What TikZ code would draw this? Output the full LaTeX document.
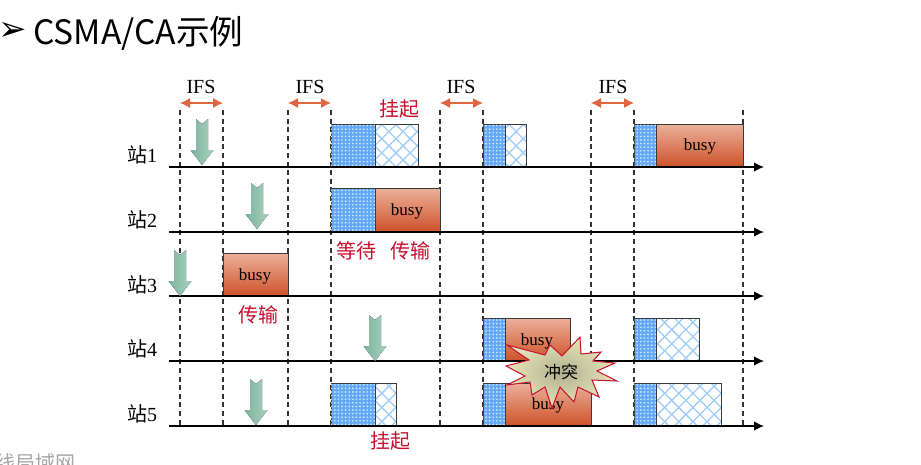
\documentclass[tikz,border=0pt]{standalone}
\usepackage{fontspec}
\setmainfont{Liberation Serif}
\newfontfamily\cjk{Noto Sans CJK SC}
\newfontfamily\symb{DejaVu Sans}
\usetikzlibrary{arrows.meta,patterns.meta,shadings}
\definecolor{ifsred}{HTML}{E0663F}
\definecolor{lblred}{HTML}{C8102E}
\definecolor{blueback}{HTML}{62A8F6}
\definecolor{bluedot}{HTML}{D2E7FC}
\definecolor{hatchblue}{HTML}{A0CCFA}
\definecolor{busytop}{HTML}{ECB09B}
\definecolor{busybot}{HTML}{CD5229}
\definecolor{dropl}{HTML}{7DB39F}
\definecolor{dropr}{HTML}{A9D0C1}
\definecolor{edgegray}{HTML}{3A3A3A}
\definecolor{burstin}{HTML}{B0B090}
\definecolor{burstout}{HTML}{E6E6B8}
\tikzset{
  boxedge/.style={draw=edgegray,line width=1pt},
  waitbox/.style={boxedge,fill=blueback,postaction={pattern={Dots[distance=3.6pt,radius=.95pt]},pattern color=bluedot}},
  pausebox/.style={boxedge,
    preaction={fill=white},
    preaction={pattern={Lines[angle=45,distance=10pt,line width=1.3pt]},pattern color=hatchblue},
    preaction={pattern={Lines[angle=-45,distance=10pt,line width=1.3pt]},pattern color=hatchblue}},
  busybox/.style={boxedge,top color=busytop,bottom color=busybot},
  busytext/.style={font=\fontsize{17}{17}\selectfont,text=black,inner sep=0pt},
  axisline/.style={line width=1.3pt,-{Latex[length=10pt,width=9.5pt]}},
  dashline/.style={line width=1.1pt,draw=black!80,dash pattern=on 5pt off 3.6pt},
  ifsarrow/.style={draw=ifsred,line width=1.2pt,{Latex[length=10pt,width=10pt]}-{Latex[length=10pt,width=10pt]}},
  ifslabel/.style={font=\fontsize{20}{20}\selectfont,inner sep=0pt},
  stationlabel/.style={font=\fontsize{20}{20}\selectfont,inner sep=0pt},
  redlabel/.style={font=\cjk\fontsize{20}{20}\selectfont,text=lblred,inner sep=0pt},
  dropshape/.style={left color=dropl,right color=dropr},
  burst/.style={draw=lblred,line width=1pt,inner color=burstin,outer color=burstout}
}
\newcommand{\dropmark}[2]{%
  \fill[dropshape,shift={(#1,#2)}] (-6,0) -- (0,5) -- (6,0) -- (6,31) -- (11.5,31) -- (0,46) -- (-11.5,31) -- (-6,31) -- cycle;}
\begin{document}
\begin{tikzpicture}[x=1pt,y=-1pt]
\useasboundingbox (0,0) rectangle (921,464);
\fill[white] (0,0) rectangle (921,464);
% title
\node[inner sep=0pt,font=\symb\fontsize{34}{34}\selectfont] (bullet) at (13,31) {➢};
\node[inner sep=0pt,anchor=west,font=\cjk\fontsize{33.6}{33.6}\selectfont] (title) at (33,33) {CSMA/CA示例};
% watermark
\node[inner sep=0pt,font=\cjk\fontsize{20}{20}\selectfont,text=black!35] (mark) at (35,463) {线局域网};
% dashed guides
\foreach \n/\x in {a/180,b/223,c/288,d/331,e/440,f/483,g/591,h/634,i/743}{
  \coordinate (\n top) at (\x,110);
  \coordinate (\n bot) at (\x,426);
  \draw[dashline] (\n top) -- (\n bot);
}
% IFS
\foreach \l/\r/\cx in {a/b/201,c/d/310,e/f/461,g/h/613}{
  \coordinate (\l ifs) at (\l top |- 0,103);
  \coordinate (\r ifs) at (\r top |- 0,103);
  \draw[ifsarrow] (\l ifs) -- (\r ifs);
  \node[ifslabel] (ifs\l) at (\cx,87) {IFS};
}
% boxes station 1
\draw[waitbox] (331,124) rectangle (375,167);
\draw[pausebox] (375,124) rectangle (418,167);
\draw[waitbox] (483,124) rectangle (505,167);
\draw[pausebox] (505,124) rectangle (526,167);
\draw[waitbox] (634,124) rectangle (656,167);
\draw[busybox] (656,124) rectangle (743,167);
\node[busytext] (b1) at (700,146) {busy};
% station 2
\draw[waitbox] (331,188) rectangle (375,232);
\draw[busybox] (375,188) rectangle (440,232);
\node[busytext] (b2) at (407,211) {busy};
% station 3
\draw[busybox] (223,253) rectangle (288,296);
\node[busytext] (b3) at (255,276) {busy};
% station 4
\draw[waitbox] (483,318) rectangle (505,361);
\draw[busybox] (505,318) rectangle (570,361);
\node[busytext] (b4) at (537,341) {busy};
\draw[waitbox] (634,318) rectangle (656,361);
\draw[pausebox] (656,318) rectangle (699,361);
% station 5
\draw[waitbox] (331,383) rectangle (375,426);
\draw[pausebox] (375,383) rectangle (396,426);
\draw[waitbox] (483,383) rectangle (505,426);
\draw[busybox] (505,383) rectangle (591,426);
\node[busytext] (b5) at (548,405) {busy};
\draw[waitbox] (634,383) rectangle (656,426);
\draw[pausebox] (656,383) rectangle (721,426);
% axes and station labels
\foreach \k/\y/\ly in {1/167/155,2/232/220,3/296/285,4/361/349,5/426/414}{
  \coordinate (s\k) at (169,\y);
  \coordinate (e\k) at (764,\y);
  \draw[axisline] (s\k) -- (e\k);
  \node[stationlabel] (st\k) at (142,\ly) {{\cjk 站}\k};
}
% green drop arrows
\dropmark{202}{119}
\dropmark{257}{183}
\dropmark{180}{250}
\dropmark{375}{315}
\dropmark{256}{379}
% red labels
\node[redlabel] (l1) at (399,109) {挂起};
\node[redlabel] (l2) at (356,251) {等待};
\node[redlabel] (l3) at (410,251) {传输};
\node[redlabel] (l4) at (258,315) {传输};
\node[redlabel] (l5) at (390,441) {挂起};
% collision burst
\draw[burst] (580,337) -- (581,354) -- (601,352) -- (593,361) -- (615,363) -- (597,371) -- (617,381) -- (592,380) -- (599,397) -- (578,387) -- (574,402) -- (560,387) -- (552,408) -- (545,387) -- (532,395) -- (530,382) -- (507,385) -- (525,376) -- (506,366) -- (529,360) -- (507,345) -- (545,355) -- (550,345) -- (562,356) -- cycle;
\node[inner sep=0pt,font=\cjk\fontsize{17}{17}\selectfont] (clash) at (561,372) {冲突};
\end{tikzpicture}
\end{document}
